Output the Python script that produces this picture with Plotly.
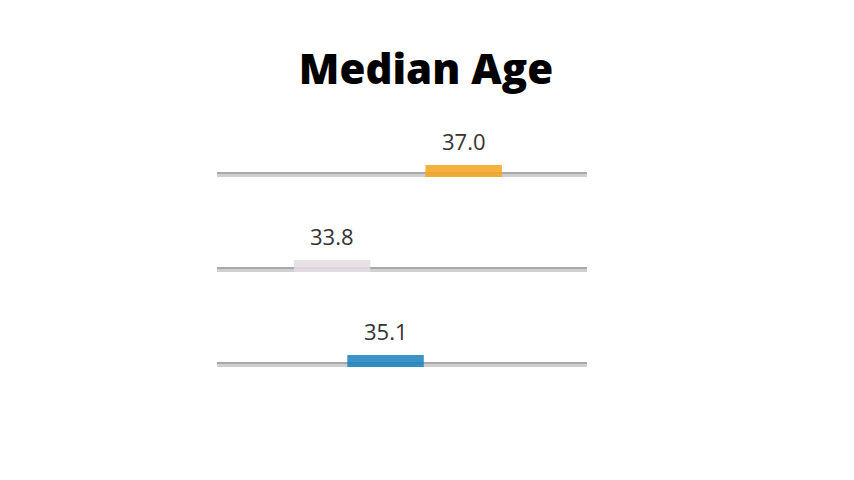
import plotly.graph_objects as go

title_text = "Median Age"
values = [37.0, 33.8, 35.1]
labels = ["37.0", "33.8", "35.1"]
rows = [2, 1, 0]
colors = ["#f5a623", "#e4dde4", "#1f84bf"]

x_min, x_max = 31.0, 40.0
half_w = 0.93
px_per_unit_y = 95.0

fig = go.Figure()

for r in rows:
    # track, light lower part
    fig.add_trace(go.Scatter(x=[x_min, x_max], y=[r, r], mode="lines",
                             line=dict(color="#cfcfcf", width=5),
                             hoverinfo="skip", showlegend=False))
    # darker top edge
    fig.add_trace(go.Scatter(x=[x_min, x_max], y=[r + 1.5 / px_per_unit_y] * 2, mode="lines",
                             line=dict(color="#a8a8a8", width=2),
                             hoverinfo="skip", showlegend=False))

for v, lab, r, c in zip(values, labels, rows, colors):
    yc = r + 3.5 / px_per_unit_y
    fig.add_trace(go.Scatter(x=[v - half_w, v + half_w], y=[yc, yc], mode="lines",
                             line=dict(color=c, width=12), opacity=0.88,
                             hoverinfo="skip", showlegend=False))
    fig.add_annotation(x=v, y=r, text=lab, showarrow=False, yanchor="bottom",
                       yshift=17, font=dict(family="Open Sans", size=22, color="#333333"))

fig.update_layout(
    width=854, height=480,
    margin=dict(l=209, r=275, t=119, b=76),
    paper_bgcolor="white", plot_bgcolor="white",
    title=dict(text=title_text, xref="container", x=418 / 854, xanchor="center",
               yref="container", y=1 - 61 / 480, yanchor="middle",
               font=dict(family="Open Sans", size=42, color="black", weight=800)),
    xaxis=dict(range=[x_min, x_max], visible=False, fixedrange=True),
    yaxis=dict(range=[-0.5, 2.5], visible=False, fixedrange=True),
)
fig.write_html("out.html")
